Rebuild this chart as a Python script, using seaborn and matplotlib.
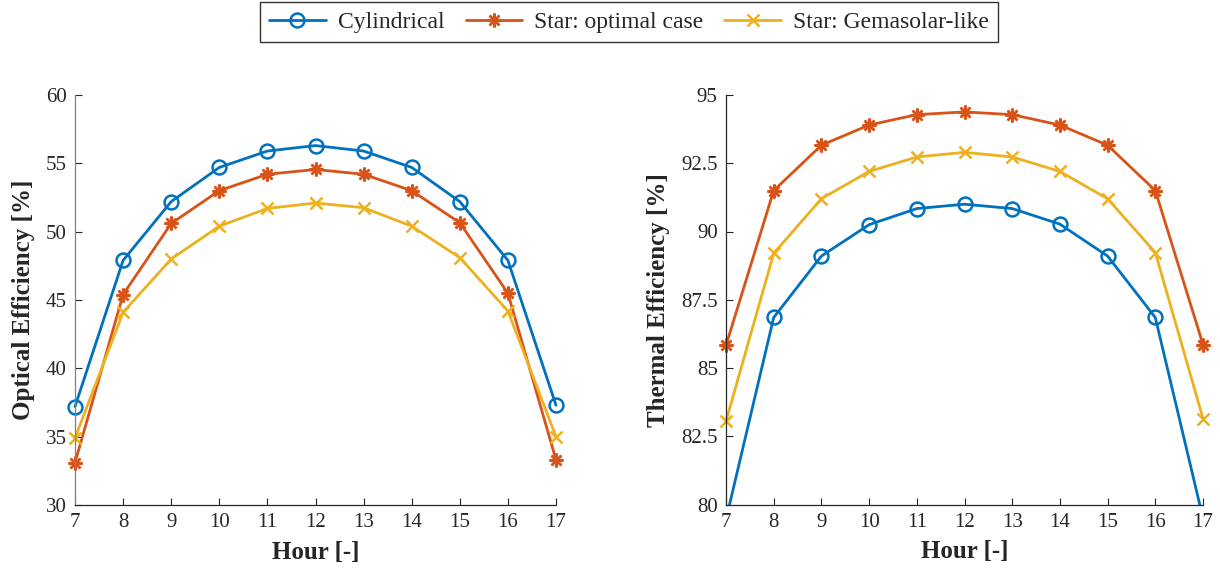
import numpy as np
import pandas as pd
import matplotlib
matplotlib.use("Agg")
import matplotlib.pyplot as plt
import seaborn as sns

# Dados
horas = [7, 8, 9, 10, 11, 12, 13, 14, 15, 16, 17]
series = ["Cylindrical", "Star: optimal case", "Star: Gemasolar-like"]

opt_cilindrico = [37.2, 47.9, 52.2, 54.7, 55.9, 56.3, 55.9, 54.7, 52.2, 47.9, 37.3]
opt_estrela_otimo = [33.1, 45.4, 50.6, 53.0, 54.2, 54.55, 54.2, 53.0, 50.65, 45.5, 33.3]
opt_gemasolar = [34.9, 44.1, 48.0, 50.4, 51.7, 52.1, 51.75, 50.4, 48.1, 44.2, 35.0]

ter_cilindrico = [79.45, 86.85, 89.1, 90.25, 90.84, 91.0, 90.84, 90.27, 89.1, 86.85, 79.5]
ter_estrela_otimo = [85.83, 91.5, 93.16, 93.9, 94.28, 94.38, 94.28, 93.9, 93.16, 91.5, 85.86]
ter_gemasolar = [83.05, 89.2, 91.2, 92.2, 92.73, 92.9, 92.73, 92.2, 91.2, 89.23, 83.15]

cores = ["#0072BD", "#D95319", "#EDB120"]
marcadores = ["o", (8, 2, 0), "x"]
tamanhos = [10, 10, 8]

sns.set_style("white", {"xtick.bottom": True, "ytick.left": True,
                        "xtick.direction": "in", "ytick.direction": "in"})
plt.rcParams["font.family"] = ["Liberation Serif", "DejaVu Serif"]
plt.rcParams["mathtext.fontset"] = "dejavuserif"

fig = plt.figure(figsize=(12.2, 5.7), dpi=100)
ax1 = fig.add_axes([75 / 1220, 1 - 505 / 570, 481 / 1220, 410 / 570])
ax2 = fig.add_axes([726 / 1220, 1 - 504.5 / 570, 477 / 1220, 409.5 / 570])


def desenhar(ax, dados, ylim, yticks, yticklabels, ylabel):
    for nome, vals, c, m, ms in zip(series, dados, cores, marcadores, tamanhos):
        df = pd.DataFrame({"hora": horas, "valor": vals})
        sns.lineplot(data=df, x="hora", y="valor", ax=ax, color=c, marker=m,
                     markersize=ms, mec=c, mfc="none", mew=1.8, lw=2,
                     label=nome, legend=False)
        # como no MATLAB: só corta a linha se o ponto sai do eixo
        linha = ax.lines[-1]
        if min(vals) >= ylim[0]:
            linha.set_clip_on(False)
    ax.set_xlim(7, 17)
    ax.set_ylim(*ylim)
    ax.set_xticks(horas)
    ax.set_yticks(yticks)
    ax.set_yticklabels(yticklabels)
    ax.tick_params(direction="in", labelsize=15, length=5, width=0.8,
                   colors="#262626", pad=6)
    for s in ["top", "right"]:
        ax.spines[s].set_visible(False)
    for s in ["left", "bottom"]:
        ax.spines[s].set_color("#262626")
        ax.spines[s].set_linewidth(0.9)
    ax.set_xlabel("Hour [-]", fontsize=18, fontweight="bold", labelpad=6)
    ax.set_ylabel(ylabel, fontsize=18, fontweight="bold", labelpad=8)


desenhar(ax1, [opt_cilindrico, opt_estrela_otimo, opt_gemasolar], (30, 60),
         [30, 35, 40, 45, 50, 55, 60], ["30", "35", "40", "45", "50", "55", "60"],
         "Optical Efficiency [%]")
ax1.spines["left"].set_color("#808080")

desenhar(ax2, [ter_cilindrico, ter_estrela_otimo, ter_gemasolar], (80, 95),
         [80, 82.5, 85, 87.5, 90, 92.5, 95], ["80", "82.5", "85", "87.5", "90", "92.5", "95"],
         "Thermal Efficiency [%]")

handles, labels = ax1.get_legend_handles_labels()
leg = fig.legend(handles, labels, loc="center", bbox_to_anchor=(629 / 1220, 1 - 22 / 570),
                 ncol=3, fontsize=17, frameon=True, fancybox=False, edgecolor="black",
                 handlelength=2.4, columnspacing=0.9, handletextpad=0.5,
                 borderpad=0.4)
leg.get_frame().set_linewidth(1.0)

fig.savefig("out.png", dpi=100)
